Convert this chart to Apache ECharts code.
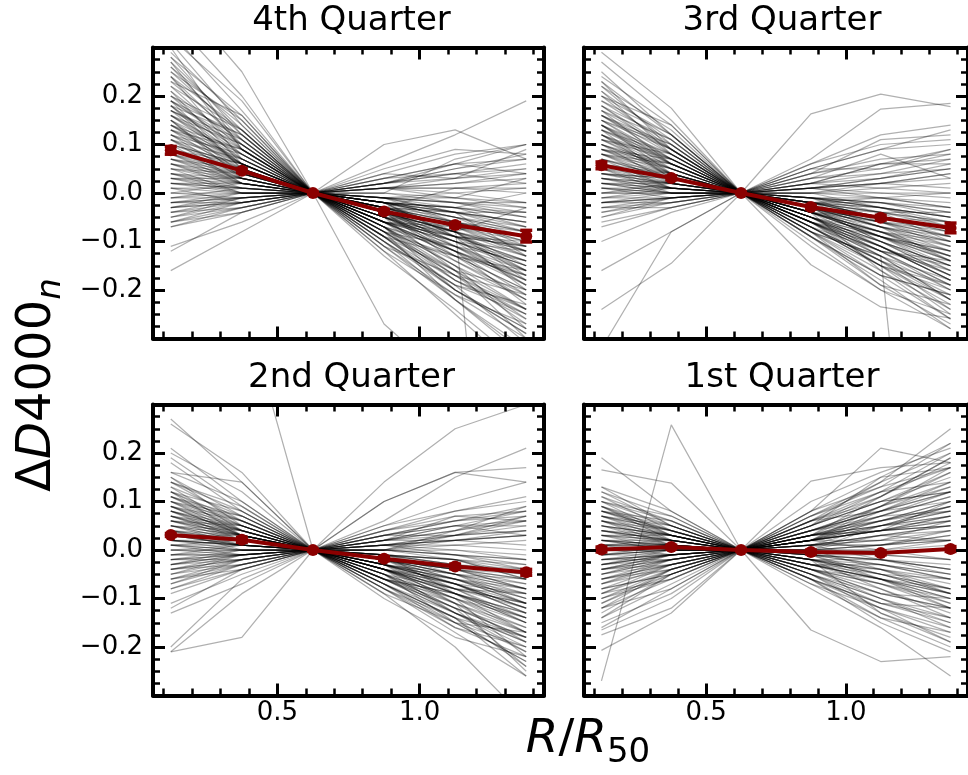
<!DOCTYPE html>
<html><head><meta charset="utf-8">
<script src="https://cdn.jsdelivr.net/npm/echarts@6/dist/echarts.min.js"></script>
<style>html,body{margin:0;padding:0;background:#fff}#c{width:968px;height:775px}</style>
</head><body><div id="c"></div>
<script>
const radii = [0.125, 0.375, 0.625, 0.875, 1.125, 1.375];
const panelTitles = ['4th Quarter', '3rd Quarter', '2nd Quarter', '1st Quarter'];
const xMajorTicks = [0.5, 1.0];
const xMinorTicks = [0.1, 0.2, 0.3, 0.4, 0.6, 0.7, 0.8, 0.9, 1.1, 1.2, 1.3, 1.4];
const yTickLabels = [-0.2, -0.1, 0.0, 0.1, 0.2];

const q4Mean = [0.088, 0.046, 0, -0.038, -0.066, -0.089];
const q4Err  = [0.008, 0.004, 0.002, 0.004, 0.005, 0.012];
const q3Mean = [0.057, 0.031, 0, -0.029, -0.051, -0.072];
const q3Err  = [0.007, 0.004, 0.002, 0.004, 0.005, 0.010];
const q2Mean = [0.031, 0.021, 0, -0.018, -0.034, -0.046];
const q2Err  = [0.003, 0.005, 0.002, 0.004, 0.005, 0.006];
const q1Mean = [0.001, 0.006, 0, -0.004, -0.006, 0.002];
const q1Err  = [0.005, 0.004, 0.002, 0.004, 0.004, 0.005];

const q4Lines = [
[.33,.17,0,-.08,-.17,-.25],[.31,.14,0,-.10,-.20,-.28],[.29,.15,0,-.06,-.12,-.18],[.28,.12,0,-.09,-.18,-.24],
[.27,.13,0,-.05,-.10,-.14],[.26,.11,0,-.07,-.15,-.22],[.25,.12,0,-.04,-.09,-.13],[.24,.10,0,-.08,-.16,-.26],
[.23,.11,0,-.03,-.07,-.10],[.22,.09,0,-.06,-.13,-.20],[.21,.10,0,-.05,-.11,-.17],[.20,.08,0,-.07,-.14,-.21],
[.20,.11,0,-.02,-.05,-.08],[.19,.09,0,-.04,-.10,-.15],[.18,.08,0,-.06,-.12,-.19],[.18,.07,0,-.03,-.06,-.09],
[.17,.09,0,-.05,-.12,-.23],[.16,.07,0,-.04,-.08,-.12],[.16,.06,0,-.08,-.17,-.27],[.15,.08,0,-.03,-.07,-.11],
[.15,.06,0,-.05,-.10,-.16],[.14,.07,0,-.02,-.04,-.06],[.14,.05,0,-.06,-.13,-.20],[.13,.06,0,-.04,-.09,-.14],
[.13,.07,0,-.01,-.03,-.04],[.12,.05,0,-.05,-.11,-.18],[.12,.06,0,-.03,-.06,-.10],[.11,.05,0,-.07,-.15,-.24],
[.11,.04,0,-.02,-.05,-.07],[.10,.05,0,-.04,-.08,-.13],[.10,.06,0,-.01,-.02,-.02],[.09,.04,0,-.05,-.10,-.15],
[.09,.03,0,-.03,-.06,-.09],[.08,.04,0,-.06,-.12,-.17],[.08,.05,0,-.02,-.03,-.05],[.07,.03,0,-.04,-.08,-.11],
[.07,.04,0,-.01,.00,.01],[.06,.02,0,-.03,-.07,-.12],[.06,.03,0,-.05,-.09,-.14],[.05,.02,0,-.02,-.04,-.06],
[.05,.03,0,-.04,-.10,-.19],[.04,.02,0,-.01,-.02,-.03],[.04,.01,0,-.03,-.05,-.08],[.03,.02,0,-.02,-.06,-.10],
[.03,.01,0,.01,.01,.02],[.02,.01,0,-.03,-.07,-.13],[.02,.00,0,-.01,-.02,-.04],[.01,.01,0,-.02,-.04,-.07],
[.01,.00,0,.02,.03,.04],[.00,.00,0,-.03,-.08,-.15],[.00,-.01,0,-.01,-.01,-.02],[-.01,.00,0,-.02,-.05,-.09],
[-.01,-.01,0,.01,.02,.03],[-.02,-.01,0,-.02,-.03,-.05],[-.02,.00,0,.02,.04,.06],[-.03,-.01,0,-.01,-.04,-.08],
[-.03,-.02,0,.01,.01,.01],[-.04,-.02,0,.02,.05,.07],[-.04,-.01,0,-.02,-.05,-.11],[-.05,-.02,0,.01,.03,.05],
[-.05,-.03,0,.00,-.01,-.03],[-.06,-.02,0,.02,.05,.08],[-.06,-.03,0,.03,.06,.10],[-.07,-.03,0,.01,.02,.04],
[-.07,-.04,0,.04,.08,.10],[-.11,-.06,0,.05,.09,.08],[-.12,-.04,0,.02,.04,.02],[-.16,-.08,0,.03,.06,.07],
[.42,.25,0,-.10,-.22,-.33],[.36,.20,0,-.12,-.25,-.38],[.30,.09,0,-.09,-.19,-.31],[.19,.05,0,-.11,-.22,-.34],
[.12,.03,0,-.06,-.07,-1.5],[.24,.13,0,-.27,-.40,-.50],[.02,.01,0,.06,.12,.19],[-.03,-.02,0,.10,.13,.07],
[.08,.03,0,.00,.07,.10],[.17,.10,0,-.09,-.20,-.29],[.23,.16,0,-.07,-.16,-.30],[.15,.04,0,-.08,-.18,-.26],
[.27,.09,0,-.11,-.17,-.21],[.25,.15,0,-.05,-.16,-.24],[.22,.13,0,-.08,-.11,-.19],[.21,.06,0,-.04,-.14,-.22],
[.19,.12,0,-.09,-.13,-.16],[.18,.05,0,-.07,-.18,-.25],[.17,.11,0,-.02,-.09,-.20],[.16,.10,0,-.06,-.09,-.11],
[.15,.03,0,-.08,-.13,-.17],[.14,.09,0,-.04,-.12,-.21],[.13,.04,0,-.06,-.08,-.12],[.12,.08,0,-.09,-.16,-.20],
[.11,.07,0,-.03,-.11,-.16],[.10,.02,0,-.05,-.07,-.09],[.09,.06,0,-.07,-.12,-.18],[.08,.02,0,-.04,-.13,-.22],
[.07,.05,0,-.06,-.09,-.10],[.06,.04,0,-.02,-.09,-.16],[.05,.00,0,-.05,-.06,-.08],[.04,.03,0,-.07,-.11,-.14],
[.03,.03,0,-.04,-.08,-.17],[.02,.02,0,-.06,-.10,-.12],[.01,-.02,0,-.03,-.04,-.06],[.00,.02,0,-.05,-.09,-.11],
[-.01,.01,0,-.04,-.08,-.16],[-.02,-.02,0,-.03,-.04,-.04],[-.03,.00,0,-.01,-.06,-.12],[-.04,-.03,0,.00,-.02,-.05],
[-.05,-.01,0,-.02,-.03,-.07],[-.06,-.04,0,.01,.00,-.02],[.20,.13,0,-.10,-.19,-.23],[.24,.07,0,-.06,-.15,-.28],
[.28,.16,0,-.12,-.21,-.27],[.32,.19,0,-.07,-.20,-.29],[.26,.14,0,-.02,-.08,-.18],[.18,.12,0,-.11,-.21,-.30],
[.13,.09,0,-.10,-.19,-.25],[.09,.05,0,-.09,-.20,-.28],[.11,.02,0,-.01,-.04,-.13],[.16,.08,0,-.05,-.08,-.03],
[.07,.02,0,.03,.04,.05],[.05,.04,0,.01,-.01,.03],[.03,.00,0,.02,.06,.04],[-.02,-.01,0,.04,.03,.09],
[.14,.06,0,-.03,.01,.00],[.10,.06,0,-.08,-.22,-.32],[.06,.01,0,-.07,-.17,-.24],[.19,.10,0,-.13,-.24,-.36],
[.04,.00,0,-.02,-.03,.00],[.17,.06,0,-.06,-.10,-.15]
];
const q3Lines = [
[.29,.175,0,-.07,-.15,-.23],[.27,.15,0,-.09,-.17,-.26],[.23,.12,0,-.06,-.12,-.19],[.22,.10,0,-.08,-.16,-.24],
[.22,.13,0,-.05,-.10,-.16],[.21,.11,0,-.04,-.09,-.14],[.20,.09,0,-.07,-.14,-.21],[.19,.10,0,-.05,-.11,-.17],
[.18,.08,0,-.03,-.07,-.12],[.17,.09,0,-.06,-.13,-.22],[.16,.07,0,-.04,-.08,-.13],[.16,.08,0,-.02,-.05,-.08],
[.15,.06,0,-.05,-.10,-.15],[.14,.07,0,-.03,-.06,-.10],[.14,.05,0,-.07,-.15,-.25],[.13,.06,0,-.04,-.08,-.11],
[.12,.05,0,-.02,-.04,-.07],[.12,.07,0,-.05,-.11,-.18],[.11,.05,0,-.03,-.07,-.09],[.11,.04,0,-.06,-.12,-.20],
[.10,.05,0,-.02,-.05,-.06],[.10,.04,0,-.04,-.09,-.14],[.09,.04,0,-.03,-.06,-.08],[.09,.03,0,-.05,-.10,-.17],
[.08,.04,0,-.02,-.03,-.05],[.08,.03,0,-.04,-.08,-.12],[.07,.03,0,-.01,-.02,-.04],[.07,.04,0,-.03,-.07,-.11],
[.06,.02,0,-.02,-.04,-.06],[.06,.03,0,-.05,-.09,-.13],[.05,.02,0,-.01,-.03,-.05],[.05,.03,0,-.03,-.06,-.09],
[.05,.01,0,.00,-.01,-.02],[.04,.02,0,-.02,-.05,-.08],[.04,.01,0,-.04,-.07,-.10],[.03,.02,0,-.01,-.02,-.03],
[.03,.01,0,-.03,-.06,-.07],[.02,.01,0,.01,.00,.00],[.02,.00,0,-.02,-.04,-.06],[.01,.01,0,-.01,-.03,-.05],
[.01,.00,0,.01,.02,.01],[.00,.00,0,-.02,-.05,-.09],[.00,.01,0,.00,.01,.02],[-.01,.00,0,-.01,-.02,-.04],
[-.01,-.01,0,.01,.02,.04],[-.02,-.01,0,-.01,-.03,-.05],[-.02,-.01,0,.02,.03,.05],[-.03,-.01,0,.00,.00,-.01],
[-.03,-.02,0,.01,.03,.06],[-.04,-.02,0,.02,.04,.07],[-.04,-.01,0,-.01,-.01,-.03],[-.05,-.02,0,.03,.05,.08],
[-.06,-.03,0,.01,.02,.03],[-.07,-.03,0,.02,.06,.09],[-.10,-.04,0,.04,.07,.08],[-.16,-.08,0,.05,.09,.10],
[-.24,-.145,0,.04,.06,.06],[-.32,-.08,0,.03,.04,.05],[.02,.01,0,.163,.204,.178],[.04,.02,0,.07,.173,.185],
[.01,.00,0,.05,.09,.13],[-.02,-.01,0,.04,.11,.12],[.03,.02,0,.06,.10,.11],[.06,.03,0,-.148,-.235,-.258],
[.10,.05,0,-.06,-.13,-1.5],[.13,.03,0,-.09,-.18,-.28],[.17,.11,0,-.08,-.19,-.27],[.20,.12,0,-.10,-.20,-.25],
[.15,.10,0,-.07,-.14,-.22],[.09,.06,0,-.06,-.14,-.24],[.12,.06,0,-.03,-.09,-.16],[.08,.05,0,-.05,-.12,-.19],
[.14,.08,0,-.06,-.11,-.17],[.18,.09,0,-.04,-.09,-.15],[.25,.12,0,-.08,-.13,-.20],
[.24,.14,0,-.06,-.11,-.18],[.21,.08,0,-.07,-.15,-.20],[.19,.12,0,-.03,-.10,-.15],[.17,.06,0,-.05,-.09,-.12],
[.16,.10,0,-.08,-.15,-.19],[.15,.09,0,-.02,-.07,-.14],[.14,.04,0,-.04,-.06,-.09],[.13,.08,0,-.06,-.12,-.14],
[.12,.04,0,-.03,-.10,-.17],[.11,.07,0,-.05,-.08,-.10],[.10,.02,0,-.04,-.11,-.18],[.09,.05,0,-.02,-.03,-.06],
[.08,.06,0,-.06,-.10,-.15],[.07,.01,0,-.03,-.08,-.14],[.06,.04,0,-.04,-.05,-.07],[.05,.04,0,-.05,-.12,-.16],
[.04,.03,0,-.01,-.04,-.10],[.03,.00,0,-.03,-.04,-.04],[.02,.02,0,-.04,-.09,-.12],[.01,-.01,0,.00,-.03,-.07],
[.00,.02,0,-.02,-.01,.00],[-.01,.01,0,-.03,-.07,-.10],[-.02,.00,0,.01,-.01,-.03],[-.03,-.03,0,.02,.01,.00],
[-.05,-.01,0,.00,.02,.04],[.18,.11,0,-.09,-.17,-.21],[.23,.09,0,-.05,-.13,-.22],[.20,.14,0,-.06,-.09,-.13],
[.15,.07,0,-.09,-.19,-.23],[.10,.06,0,-.08,-.17,-.21],[.07,.03,0,-.07,-.14,-.19],[.12,.03,0,-.07,-.12,-.15],
[.06,.01,0,.02,.06,.07],[.04,.03,0,.05,.05,.09],[.02,.00,0,.03,.08,.03],[.08,.02,0,.01,.03,.05],
[-.02,-.02,0,.06,.12,.14],[.13,.07,0,-.02,-.02,-.05],[.16,.09,0,-.11,-.20,-.28],[.11,.08,0,-.04,-.16,-.26],
[.05,.00,0,-.06,-.15,-.22],[.03,.01,0,-.05,-.11,-.18],[.09,.07,0,-.01,-.06,-.11],[.14,.06,0,-.08,-.13,-.18],
[.00,.00,0,-.04,-.08,-.13]
];
const q2Lines = [
[.27,.14,0,-.08,-.16,-.22],[.26,.16,0,-.06,-.12,-.18],[.21,.10,0,-.05,-.11,-.17],[.19,.09,0,-.07,-.14,-.21],
[.16,.14,0,-.04,-.09,-.13],[.15,.07,0,-.03,-.07,-.12],[.14,.06,0,-.06,-.13,-.20],[.13,.07,0,-.02,-.05,-.08],
[.12,.06,0,-.04,-.10,-.16],[.12,.05,0,-.05,-.12,-.24],[.11,.05,0,-.03,-.06,-.09],[.10,.04,0,-.04,-.09,-.15],
[.10,.05,0,-.01,-.03,-.05],[.09,.04,0,-.03,-.07,-.11],[.09,.03,0,-.05,-.10,-.17],[.08,.04,0,-.02,-.04,-.06],
[.08,.03,0,-.04,-.08,-.14],[.07,.03,0,-.01,-.02,-.03],[.07,.04,0,-.03,-.06,-.10],[.06,.03,0,-.02,-.05,-.08],
[.06,.02,0,-.04,-.09,-.13],[.05,.02,0,.00,-.01,-.02],[.05,.03,0,-.02,-.04,-.07],[.04,.02,0,-.03,-.07,-.12],
[.04,.01,0,-.01,-.02,-.04],[.04,.02,0,.01,.02,.03],[.03,.01,0,-.02,-.05,-.09],[.03,.02,0,-.01,-.03,-.04],
[.02,.01,0,.00,.00,-.01],[.02,.01,0,-.03,-.06,-.11],[.02,.00,0,.01,.03,.04],[.01,.01,0,-.01,-.02,-.05],
[.01,.00,0,-.02,-.04,-.06],[.00,.00,0,.00,-.01,-.02],[.00,.00,0,-.03,-.07,-.13],[-.01,.00,0,.01,.01,.02],
[-.01,-.01,0,-.01,-.03,-.05],[-.02,-.01,0,.02,.03,.05],[-.02,-.01,0,-.02,-.05,-.10],[-.03,-.01,0,.01,.02,.03],
[-.03,-.02,0,.00,-.01,-.03],[-.04,-.02,0,.02,.04,.06],[-.04,-.01,0,-.01,-.02,-.06],[-.05,-.02,0,.03,.05,.08],
[-.05,-.03,0,.00,.01,.00],[-.06,-.02,0,.02,.04,.07],[-.06,-.03,0,-.02,-.04,-.08],[-.07,-.03,0,.03,.06,.09],
[-.08,-.04,0,.01,.02,.04],[-.11,-.05,0,.04,.08,.10],[-.12,-.04,0,.02,.05,.06],[-.20,-.06,0,.10,.16,.14],
[-.21,-.18,0,.05,.08,.11],[-.21,-.09,0,.03,.05,.05],[.60,.52,0,-.04,-.08,-.11],[.05,.03,0,.14,.25,.30],
[.02,.01,0,.06,.15,.21],[.03,.01,0,.10,.16,.17],[-.03,-.01,0,.05,.10,.14],[.09,.05,0,-.08,-.17,-.26],
[.11,.04,0,-.09,-.20,-.35],[.06,.03,0,-.07,-.15,-.20],[.14,.08,0,-.05,-.15,-.23],[.08,.05,0,-.06,-.11,-.19],
[.03,.02,0,-.05,-.12,-.18],[.10,.06,0,-.10,-.18,-.22],[.01,.02,0,-.06,-.09,-.15],[.05,.04,0,-.07,-.14,-.26],
[-.01,-.01,0,-.04,-.08,-.12],[.07,.02,0,.03,.06,.08],
[.14,.09,0,-.03,-.08,-.11],[.13,.04,0,-.06,-.09,-.14],[.12,.08,0,-.02,-.06,-.10],[.11,.06,0,-.05,-.13,-.18],
[.10,.03,0,-.03,-.05,-.07],[.09,.06,0,-.04,-.11,-.16],[.08,.02,0,-.02,-.07,-.12],[.07,.05,0,-.05,-.08,-.09],
[.06,.04,0,-.01,-.05,-.11],[.05,.01,0,-.04,-.06,-.08],[.04,.03,0,-.03,-.09,-.14],[.03,.03,0,.00,-.02,-.06],
[.02,.02,0,-.04,-.07,-.09],[.01,-.01,0,-.01,-.04,-.08],[.00,.01,0,-.03,-.05,-.06],[-.01,.01,0,-.02,-.06,-.11],
[-.02,.00,0,.01,-.01,-.04],[-.03,.00,0,-.02,-.04,-.05],[-.04,-.03,0,.01,.00,-.02],[-.05,-.01,0,.02,.02,.01],
[-.06,-.04,0,.00,.02,.03],[-.07,-.02,0,.01,.03,.04],[-.08,-.03,0,.03,.03,.06],[.16,.10,0,-.06,-.10,-.15],
[.18,.08,0,-.04,-.13,-.19],[.11,.07,0,-.07,-.13,-.21],[.07,.03,0,-.06,-.13,-.19],[.05,.02,0,-.08,-.15,-.23],
[.09,.03,0,-.07,-.16,-.20],[.02,.01,0,-.06,-.12,-.17],[-.02,-.02,0,-.05,-.10,-.14],[.04,.00,0,-.04,-.10,-.22],
[.06,.05,0,-.01,-.09,-.17],[.03,.01,0,.02,.05,.03],[.01,.00,0,.04,.06,.07],[-.04,-.02,0,.04,.07,.06],
[.08,.04,0,.00,.03,.07],[.12,.03,0,-.09,-.15,-.17],[.10,.07,0,-.03,-.11,-.25],[.00,-.01,0,-.07,-.14,-.18],
[.15,.05,0,-.08,-.14,-.24],[-.09,-.04,0,.02,.07,.08],[.20,.12,0,-.04,-.07,-.13],[-.13,-.07,0,.00,.04,.09],
[.03,.02,0,-.02,-.08,-.15]
];
const q1Lines = [
[.19,.08,0,-.05,-.10,-.14],[.165,.138,0,-.03,-.06,-.08],[-.27,.258,0,.02,.04,.05],[.11,.06,0,-.04,-.08,-.13],
[.10,.05,0,-.02,-.05,-.06],[.09,.04,0,-.05,-.10,-.16],[.08,.05,0,-.03,-.06,-.09],[.08,.03,0,-.01,-.02,-.04],
[.07,.04,0,-.04,-.07,-.12],[.07,.03,0,.00,.01,.02],[.06,.03,0,-.02,-.05,-.08],[.06,.02,0,.02,.04,.05],
[.05,.02,0,-.03,-.06,-.10],[.05,.03,0,.01,.02,.04],[.04,.02,0,-.01,-.03,-.05],[.04,.01,0,.03,.06,.09],
[.03,.02,0,-.02,-.04,-.06],[.03,.01,0,.02,.04,.07],[.03,.02,0,-.04,-.07,-.11],[.02,.01,0,.01,.01,.03],
[.02,.00,0,-.01,-.02,-.03],[.02,.01,0,.04,.08,.12],[.01,.01,0,-.03,-.05,-.08],[.01,.00,0,.02,.05,.08],
[.01,.01,0,.00,.00,.01],[.00,.00,0,-.02,-.04,-.07],[.00,.00,0,.03,.07,.11],[.00,.01,0,-.01,-.01,-.02],
[-.01,.00,0,.01,.03,.05],[-.01,-.01,0,-.03,-.06,-.09],[-.01,.00,0,.04,.09,.14],[-.02,-.01,0,.00,.01,.03],
[-.02,-.01,0,.02,.05,.09],[-.02,.00,0,-.02,-.03,-.05],[-.03,-.01,0,.03,.06,.10],[-.03,-.02,0,.01,.02,.02],
[-.03,-.01,0,.05,.10,.15],[-.04,-.02,0,.00,-.01,-.02],[-.04,-.01,0,.02,.04,.06],[-.05,-.02,0,.04,.08,.13],
[-.05,-.03,0,.01,.03,.04],[-.06,-.02,0,.03,.05,.08],[-.06,-.03,0,-.01,-.02,-.04],[-.07,-.03,0,.05,.11,.18],
[-.07,-.04,0,.02,.04,.05],[-.08,-.03,0,.03,.07,.11],[-.09,-.04,0,.00,.01,.02],[-.10,-.05,0,.04,.09,.16],
[-.11,-.05,0,.02,.06,.08],[-.12,-.06,0,.06,.12,.20],[-.13,-.05,0,.03,.05,.07],[-.14,-.07,0,.07,.13,.22],
[-.16,-.08,0,.04,.08,.12],[-.165,-.10,0,.05,.10,.16],[-.175,-.12,0,.02,.04,.06],[-.207,-.13,0,.06,.14,.25],
[.12,.07,0,.142,.17,.18],[.06,.03,0,.08,.21,.18],[.04,.02,0,.10,.16,.21],[.08,.04,0,-.165,-.23,-.22],
[.10,.06,0,-.08,-.16,-.26],[.05,.03,0,-.06,-.12,-.19],[.07,.04,0,-.07,-.14,-.17],[.02,.01,0,-.05,-.11,-.15],
[-.03,-.01,0,-.04,-.09,-.12],[.09,.03,0,-.06,-.15,-.21],[.01,.02,0,.07,.12,.14],[-.08,-.05,0,-.03,-.07,-.10],
[.13,.05,0,-.02,-.13,-.18],[-.10,-.04,0,-.05,-.09,-.12],[.00,-.01,0,.08,.15,.17],[-.04,-.02,0,.06,.10,.12],
[.12,.05,0,-.03,-.04,-.09],[.10,.07,0,-.01,-.06,-.11],[.09,.02,0,-.04,-.09,-.10],[.08,.06,0,.01,-.02,-.05],
[.07,.02,0,-.02,-.08,-.14],[.06,.04,0,-.03,-.03,-.06],[.05,.01,0,.00,-.04,-.08],[.04,.03,0,-.02,-.06,-.12],
[.03,.00,0,.01,.03,.02],[.02,.02,0,-.01,-.05,-.09],[.01,-.01,0,.02,.02,.06],[.00,.01,0,-.02,-.02,-.04],
[-.01,.01,0,.03,.05,.07],[-.02,-.02,0,.00,.03,.05],[-.03,.00,0,.02,.07,.12],[-.04,-.03,0,.01,.01,.04],
[-.05,-.01,0,.03,.04,.10],[-.06,-.04,0,.02,.06,.09],[-.07,-.02,0,.01,.05,.06],[-.08,-.05,0,.04,.06,.10],
[-.09,-.03,0,.02,.08,.14],[-.10,-.06,0,.03,.04,.07],[-.11,-.04,0,.05,.10,.12],[-.12,-.08,0,.02,.09,.17],
[-.14,-.05,0,.06,.08,.10],[-.15,-.09,0,.03,.11,.19],[.11,.04,0,-.06,-.11,-.12],[.09,.05,0,-.05,-.13,-.19],
[.06,.01,0,-.07,-.12,-.17],[.03,.03,0,-.06,-.14,-.20],[.00,.00,0,-.05,-.12,-.16],[-.04,-.01,0,-.06,-.11,-.14],
[-.06,-.03,0,-.02,-.05,-.09],[.04,.02,0,.05,.12,.17],[.02,.00,0,.06,.11,.19],[-.01,.00,0,.07,.14,.20],
[.05,.03,0,.03,.09,.13],[-.02,-.01,0,.05,.15,.22],[.07,.05,0,.04,.07,.08],[.10,.03,0,.02,.00,-.02],
[-.09,-.06,0,-.01,-.03,-.06],[.13,.08,0,-.04,-.10,-.15],[-.12,-.04,0,.00,.00,.02],[.01,.01,0,-.04,-.06,-.10],
[-.05,-.02,0,.08,.13,.17],[.08,.04,0,.00,.05,.09]
];

const panelLines = [q4Lines, q3Lines, q2Lines, q1Lines];
const panelMeans = [q4Mean, q3Mean, q2Mean, q1Mean];
const panelErrs = [q4Err, q3Err, q2Err, q1Err];

// layout (pixels)
const grids = [
  {left: 153, top: 47.5, width: 391, height: 291},
  {left: 584, top: 47.5, width: 390, height: 291},
  {left: 153, top: 404.5, width: 391, height: 291},
  {left: 584, top: 404.5, width: 390, height: 291}
];
const FONT = 'DejaVu Sans';
const DARKRED = '#8b0000';

const xAxes = [], yAxes = [], series = [], titles = [];
grids.forEach((g, i) => {
  const bottomRow = i >= 2, leftCol = (i % 2 === 0);
  const baseX = {
    type: 'value', gridIndex: i, min: 0.0625, max: 1.4375, z: 10,
    splitLine: {show: false}
  };
  const mkX = (pos, major) => Object.assign({}, baseX, {
    position: pos,
    axisLine: {show: major, onZero: false, lineStyle: {color: '#000', width: 4}},
    axisTick: {show: true, inside: true, customValues: major ? xMajorTicks : xMinorTicks,
      length: major ? 12 : 7, lineStyle: {color: '#000', width: major ? 3 : 2.5}},
    axisLabel: {show: major && pos === 'bottom' && bottomRow, customValues: xMajorTicks,
      formatter: v => v.toFixed(1), fontSize: 26, color: '#000', fontFamily: FONT, margin: 5}
  });
  xAxes.push(mkX('bottom', true), mkX('bottom', false), mkX('top', true), mkX('top', false));
  const mkY = (pos) => ({
    type: 'value', gridIndex: i, min: -0.3, max: 0.3, interval: 0.1, position: pos, z: 10,
    splitLine: {show: false},
    axisLine: {show: true, onZero: false, lineStyle: {color: '#000', width: 4}},
    axisTick: {show: true, inside: true, length: 12, lineStyle: {color: '#000', width: 3}},
    minorTick: {show: true, splitNumber: 4, length: 7, lineStyle: {color: '#000', width: 2.5}},
    minorSplitLine: {show: false},
    axisLabel: {show: pos === 'left' && leftCol, customValues: yTickLabels,
      formatter: v => (v < -1e-9 ? '\u2212' : '') + Math.abs(v).toFixed(1),
      fontSize: 26, color: '#000', fontFamily: FONT, margin: 10}
  });
  yAxes.push(mkY('left'), mkY('right'));

  const xi = i * 4, yi = i * 2;
  panelLines[i].forEach(line => {
    series.push({
      type: 'line', xAxisIndex: xi, yAxisIndex: yi, silent: true, symbol: 'none', clip: true, z: 2,
      lineStyle: {color: 'rgba(0,0,0,0.31)', width: 1.25},
      data: line.map((v, k) => [radii[k], v])
    });
  });
  const mean = panelMeans[i], err = panelErrs[i];
  series.push({
    type: 'line', xAxisIndex: xi, yAxisIndex: yi, silent: true, z: 5,
    symbol: 'circle', symbolSize: 12,
    itemStyle: {color: DARKRED}, lineStyle: {color: DARKRED, width: 4},
    data: mean.map((v, k) => [radii[k], v])
  });
  series.push({
    type: 'custom', xAxisIndex: xi, yAxisIndex: yi, silent: true, z: 6,
    data: mean.map((v, k) => [radii[k], v - err[k], v + err[k]]),
    encode: {x: 0, y: [1, 2]},
    renderItem: (params, api) => {
      const x = api.value(0);
      const lo = api.coord([x, api.value(1)]);
      const hi = api.coord([x, api.value(2)]);
      const cw = 6, st = {stroke: DARKRED, lineWidth: 3.5};
      return {type: 'group', children: [
        {type: 'line', shape: {x1: lo[0], y1: lo[1], x2: hi[0], y2: hi[1]}, style: st},
        {type: 'line', shape: {x1: lo[0] - cw, y1: lo[1], x2: lo[0] + cw, y2: lo[1]}, style: st},
        {type: 'line', shape: {x1: hi[0] - cw, y1: hi[1], x2: hi[0] + cw, y2: hi[1]}, style: st}
      ]};
    }
  });
  titles.push({
    text: panelTitles[i], left: g.left + g.width / 2 - 2, top: g.top - 48, textAlign: 'center',
    textStyle: {fontSize: 34, fontWeight: 'normal', fontFamily: FONT, color: '#000'}
  });
});

const chart = echarts.init(document.getElementById('c'), null, {renderer: 'canvas'});
chart.setOption({
  animation: false,
  backgroundColor: '#fff',
  title: titles,
  grid: grids.map(g => Object.assign({containLabel: false}, g)),
  xAxis: xAxes,
  yAxis: yAxes,
  series: series,
  graphic: [
    {type: 'text', x: 38, y: 385, rotation: Math.PI / 2,
     style: {text: '{m|\u0394}{i|D}{m|4000}{s|n}', textAlign: 'center', textVerticalAlign: 'middle',
       align: 'center', verticalAlign: 'middle', fill: '#000',
       rich: {
         m: {fontSize: 48, fontFamily: FONT, fill: '#000'},
         i: {fontSize: 48, fontFamily: FONT, fontStyle: 'italic', fill: '#000'},
         s: {fontSize: 34, fontFamily: FONT, fontStyle: 'italic', fill: '#000', padding: [27, 0, 0, 0]}
       }}},
    {type: 'text', x: 588, y: 740,
     style: {text: '{i|R}{m|/}{i|R}{s|50}', textAlign: 'center', textVerticalAlign: 'middle',
       align: 'center', verticalAlign: 'middle', fill: '#000',
       rich: {
         m: {fontSize: 47, fontFamily: FONT, fill: '#000'},
         i: {fontSize: 47, fontFamily: FONT, fontStyle: 'italic', fill: '#000'},
         s: {fontSize: 34, fontFamily: FONT, fill: '#000', padding: [27, 0, 0, 0]}
       }}}
  ]
});
</script>
</body></html>
